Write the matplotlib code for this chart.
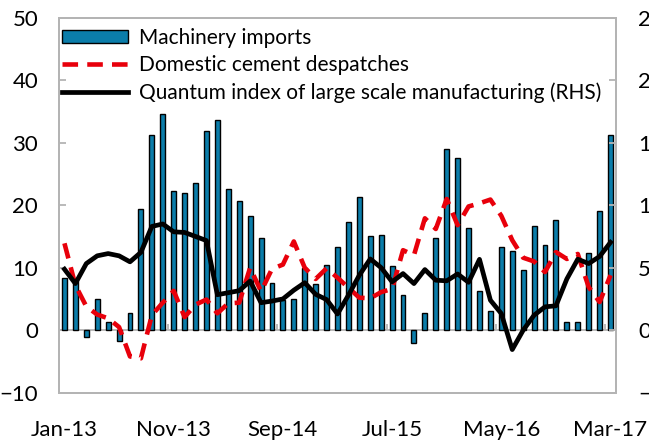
import matplotlib
matplotlib.use("Agg")
import matplotlib.pyplot as plt
import numpy as np
import pandas as pd

plt.rcParams['font.family'] = ['Lato', 'DejaVu Sans']

# ---- data ----
months = pd.date_range('2013-01-01', periods=51, freq='MS').strftime('%b-%y').tolist()
tick_labels = ['Jan-13', 'Nov-13', 'Sep-14', 'Jul-15', 'May-16', 'Mar-17']

machinery = [8.3, 7.8, -1.1, 5.0, 1.3, -1.7, 2.7, 19.4, 31.3, 34.6,
             22.3, 22.0, 23.6, 31.9, 33.6, 22.6, 20.6, 18.3, 14.7, 7.6,
             4.8, 5.0, 10.0, 7.4, 10.4, 13.3, 17.3, 21.3, 15.0, 15.3,
             10.3, 5.7, -2.1, 2.7, 14.7, 29.0, 27.6, 16.4, 6.3, 3.0,
             13.3, 12.6, 9.6, 16.6, 13.7, 17.7, 1.3, 1.3, 12.3, 19.0,
             31.3]

cement = [13.9, 7.2, 3.8, 2.5, 1.9, 0.5, -4.2, -4.5, 2.4, 4.4,
          6.3, 2.1, 4.1, 4.9, 2.7, 4.3, 4.4, 10.0, 6.2, 9.8,
          10.5, 14.2, 10.0, 8.2, 9.9, 8.4, 6.8, 5.2, 5.1, 6.1,
          6.6, 12.8, 12.0, 17.9, 16.2, 21.0, 16.8, 19.8, 20.3, 20.9,
          18.3, 14.4, 11.6, 11.0, 9.3, 12.5, 11.4, 12.2, 6.9, 4.5,
          8.8]

lsm = [4.88, 3.73, 5.33, 5.95, 6.13, 5.95, 5.47, 6.23, 8.3, 8.5,
       7.87, 7.82, 7.5, 7.17, 2.84, 3.0, 3.16, 3.93, 2.2, 2.33,
       2.5, 3.2, 3.8, 2.87, 2.45, 1.3, 2.8, 4.4, 5.7, 5.0,
       3.87, 4.53, 3.73, 4.85, 4.0, 3.95, 4.5, 3.83, 5.67, 2.4,
       1.33, -1.55, 0.0, 1.2, 1.87, 1.95, 4.1, 5.68, 5.33, 5.9,
       7.03]

left_ticks = [-10, 0, 10, 20, 30, 40, 50]
right_ticks = [-5, 0, 5, 10, 15, 20, 25]

# ---- style ----
BAR_COLOR = '#0B7DAA'
RED = '#E8000B'
GRAY = '#B4B4B4'
FS = 16
LFS = 15

W, H = 649, 440
fig = plt.figure(figsize=(W / 100, H / 100), dpi=100)
left, right, top, bottom = 59, 616, 17.7, 392.7
ax = fig.add_axes([left / W, (H - bottom) / H, (right - left) / W, (bottom - top) / H])

x = np.arange(len(months))
ax.axhline(0, color=GRAY, lw=1.3, zorder=1)
bars = ax.bar(x, machinery, width=0.45, color=BAR_COLOR, edgecolor='black',
              linewidth=1.0, zorder=2, label='Machinery imports')
# small category-group tick marks on the zero line
bnd = np.arange(9.5, len(months), 10)
ax.plot(bnd, np.zeros_like(bnd), ls='', marker=2, ms=4, mew=1.3, color=GRAY, zorder=1.5)

red_line, = ax.plot(x, cement, color=RED, lw=3.3, dashes=(3.4, 2.0), zorder=3,
                    label='Domestic cement despatches')

ax.set_xlim(-0.5, len(months) - 0.5)
ax.set_ylim(-10, 50)
ax.set_yticks(left_ticks)
ax.set_xticks(x[::10])
ax.set_xticklabels(tick_labels)

ax2 = ax.twinx()
blk_line, = ax2.plot(x, lsm, color='black', lw=3.4, zorder=4,
                     label='Quantum index of large scale manufacturing (RHS)')
ax2.set_ylim(-5, 25)
ax2.set_yticks(right_ticks)

for a in (ax, ax2):
    for s in a.spines.values():
        s.set_color(GRAY)
        s.set_linewidth(1.3)
ax.tick_params(axis='y', direction='in', length=5, width=1.3, color=GRAY,
               labelsize=FS, pad=15)
ax.tick_params(axis='x', length=0, labelsize=FS, pad=20)
ax2.tick_params(axis='y', direction='in', length=5, width=1.3, color=GRAY,
                labelsize=FS, pad=16)
for lab in ax2.get_yticklabels():
    lab.set_horizontalalignment('left')

leg = ax2.legend(handles=[bars, red_line, blk_line], loc='upper left',
                 bbox_to_anchor=(0.005, 0.973), frameon=False, fontsize=LFS,
                 handlelength=3.2, handletextpad=0.5, labelspacing=0.36,
                 borderaxespad=0, borderpad=0, handleheight=0.6)

fig.savefig('out.png', dpi=100)
